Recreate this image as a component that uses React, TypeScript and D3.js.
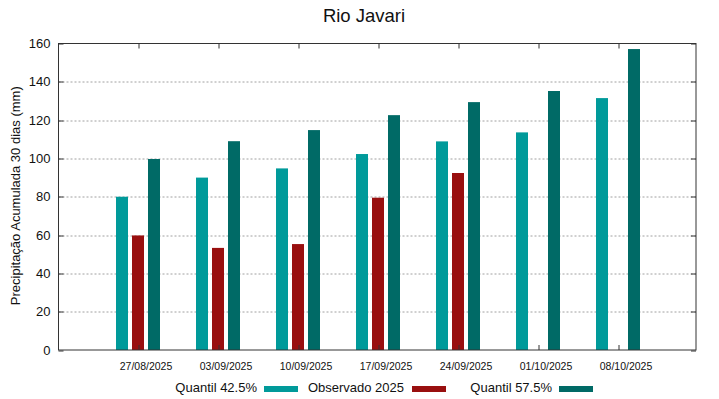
import { useEffect, useRef } from "react";
import * as d3 from "d3";

const dates = ["27/08/2025", "03/09/2025", "10/09/2025", "17/09/2025", "24/09/2025", "01/10/2025", "08/10/2025"];
const quantil425 = [80, 90, 94.8, 102.3, 108.9, 113.6, 131.5];
const observado = [59.8, 53.3, 55.3, 79.5, 92.4, null, null];
const quantil575 = [99.7, 109, 114.8, 122.6, 129.4, 135.2, 157.1];
const yTicks = [0, 20, 40, 60, 80, 100, 120, 140, 160];

const COLORS = {
  q425: "#009a9a",
  obs: "#990f0f",
  q575: "#006a66",
  grid: "#a0a0a0",
  axis: "#333333",
  text: "#111111",
};

const W = 719;
const H = 399;
const margin = { top: 43.5, right: 23, bottom: 49, left: 58.5 };
const FONT = "Liberation Sans, Arial, sans-serif";

export default function App() {
  const svgRef = useRef<SVGSVGElement>(null);

  useEffect(() => {
    if (!svgRef.current) return;
    const svg = d3.select(svgRef.current);
    svg.selectAll("*").remove();

    const innerW = W - margin.left - margin.right;
    const innerH = H - margin.top - margin.bottom;

    // category centres every 80px, first at 138
    const x = d3.scalePoint<string>()
      .domain(dates)
      .range([138 - margin.left, 618 - margin.left]);
    const y = d3.scaleLinear().domain([0, 160]).range([innerH, 0]);

    const barW = 12;
    const step = 16;

    const g = svg.append("g").attr("transform", `translate(${margin.left},${margin.top})`);

    // grid
    g.append("g")
      .selectAll("line")
      .data(yTicks.filter((t) => t > 0 && t < 160))
      .join("line")
      .attr("x1", 0)
      .attr("x2", innerW)
      .attr("y1", (d) => Math.round(y(d)) + 0.5)
      .attr("y2", (d) => Math.round(y(d)) + 0.5)
      .attr("stroke", COLORS.grid)
      .attr("stroke-width", 1)
      .attr("stroke-dasharray", "2,2");

    // bars
    const series = [
      { values: quantil425, color: COLORS.q425, offset: -1 },
      { values: observado, color: COLORS.obs, offset: 0 },
      { values: quantil575, color: COLORS.q575, offset: 1 },
    ];
    series.forEach((s) => {
      g.append("g")
        .selectAll("rect")
        .data(s.values.map((v, i) => ({ v, d: dates[i] })).filter((e) => e.v !== null))
        .join("rect")
        .attr("x", (e) => (x(e.d) ?? 0) + s.offset * step - barW / 2)
        .attr("width", barW)
        .attr("y", (e) => y(e.v as number))
        .attr("height", (e) => innerH - y(e.v as number))
        .attr("fill", s.color);
    });

    // frame
    g.append("rect")
      .attr("x", 0)
      .attr("y", 0)
      .attr("width", innerW)
      .attr("height", innerH)
      .attr("fill", "none")
      .attr("stroke", COLORS.axis)
      .attr("stroke-width", 1);

    // y ticks (inward, both sides)
    const yt = g.append("g");
    yTicks.forEach((t) => {
      const yy = Math.round(y(t)) + 0.5;
      yt.append("line").attr("x1", 0).attr("x2", 5).attr("y1", yy).attr("y2", yy).attr("stroke", COLORS.axis);
      yt.append("line").attr("x1", innerW - 5).attr("x2", innerW).attr("y1", yy).attr("y2", yy).attr("stroke", COLORS.axis);
      yt.append("text")
        .attr("x", -8)
        .attr("y", y(t))
        .attr("dy", "0.36em")
        .attr("text-anchor", "end")
        .attr("font-family", FONT)
        .attr("font-size", 13)
        .attr("fill", COLORS.text)
        .text(String(t));
    });

    // x ticks (inward, top and bottom)
    const xt = g.append("g");
    dates.forEach((d) => {
      const xx = Math.round(x(d) ?? 0) + 0.5;
      xt.append("line").attr("x1", xx).attr("x2", xx).attr("y1", innerH).attr("y2", innerH - 5).attr("stroke", COLORS.axis);
      xt.append("line").attr("x1", xx).attr("x2", xx).attr("y1", 0).attr("y2", 5).attr("stroke", COLORS.axis);
      xt.append("text")
        .attr("x", xx + 7)
        .attr("y", innerH + 20)
        .attr("text-anchor", "middle")
        .attr("font-family", FONT)
        .attr("font-size", 10.5)
        .attr("fill", COLORS.text)
        .text(d);
    });

    // title
    svg.append("text")
      .attr("x", 364)
      .attr("y", 22)
      .attr("text-anchor", "middle")
      .attr("font-family", FONT)
      .attr("font-size", 18.5)
      .attr("fill", COLORS.text)
      .text("Rio Javari");

    // y label
    svg.append("text")
      .attr("transform", `translate(20,${margin.top + innerH / 2 - 1}) rotate(-90)`)
      .attr("text-anchor", "middle")
      .attr("font-family", FONT)
      .attr("font-size", 13)
      .attr("fill", COLORS.text)
      .text("Precipitação Acumulada 30 dias (mm)");

    // legend
    const legend = [
      { label: "Quantil 42.5%", color: COLORS.q425, textEnd: 257, sw: 264 },
      { label: "Observado 2025", color: COLORS.obs, textEnd: 404, sw: 412 },
      { label: "Quantil 57.5%", color: COLORS.q575, textEnd: 552, sw: 559 },
    ];
    const lg = svg.append("g");
    legend.forEach((l) => {
      lg.append("text")
        .attr("x", l.textEnd)
        .attr("y", 392)
        .attr("text-anchor", "end")
        .attr("font-family", FONT)
        .attr("font-size", 13)
        .attr("fill", COLORS.text)
        .text(l.label);
      lg.append("rect")
        .attr("x", l.sw)
        .attr("y", 386)
        .attr("width", 34)
        .attr("height", 6)
        .attr("fill", l.color);
    });
  }, []);

  return (
    <div style={{ position: "fixed", left: 0, top: 0, width: W, height: H, background: "#fff" }}>
      <svg ref={svgRef} width={W} height={H} style={{ display: "block" }} />
    </div>
  );
}
